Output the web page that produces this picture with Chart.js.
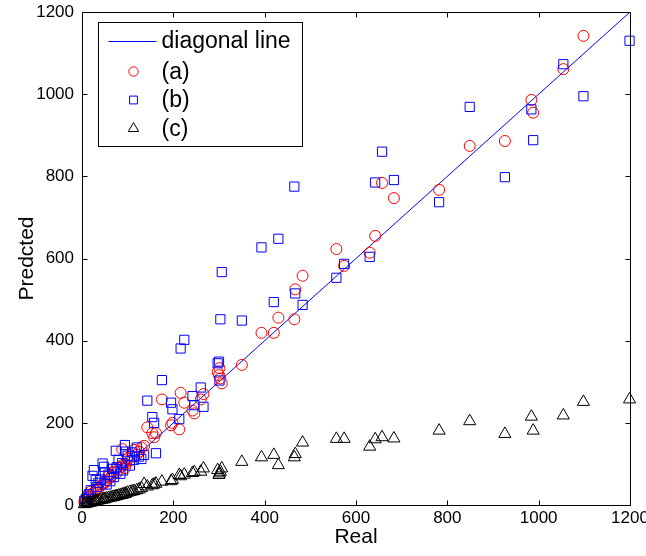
<!DOCTYPE html>
<html><head><meta charset="utf-8">
<script src="https://cdn.jsdelivr.net/npm/chart.js@4/dist/chart.umd.min.js"></script>
<style>html,body{margin:0;padding:0;background:#fff;}#wrap{width:646px;height:556px;}</style>
</head><body><div id="wrap"><canvas id="c" width="646" height="556"></canvas></div>
<script>
const realValues = [1199,1098,1054,984,988,926,849,782,683,657,642,630,574,557,483,467,465,430,420,393,350,306,303,300,297,301,266,260,246,242,224,216,213,198,195,175,162,158,154,143,136,130,125,120,114,110,105,100,96,94,90,88,84,80,76,74,70,66,62,58,54,50,48,45,40,36,32,30,26,23,19,15,12,8,5];
const predA = [null,1142,1061,986,955,886,874,767,747,784,655,614,582,623,558,525,452,456,419,419,341,296,308,316,324,333,270,257,223,230,249,273,184,200,194,257,175,165,175,189,144,140,130,122,134,118,108,112,100,90,98,136,92,86,78,88,80,72,66,70,60,56,52,50,46,40,38,34,30,28,32,20,24,12,8];
const predB = [1130,995,1073,963,888,798,969,737,791,860,785,604,587,553,487,515,775,648,494,627,449,567,452,349,345,303,239,286,243,265,402,381,209,233,249,304,126,200,214,254,122,112,118,140,110,128,96,120,130,146,84,102,76,110,92,132,68,88,58,74,50,80,93,101,62,54,44,61,85,71,36,26,18,14,10];
const predC = [257,251,218,215,181,173,204,181,162,165,160,142,161,161,152,124,116,97,122,116,105,89,81,73,85,77,89,81,80,78,74,70,73,61,58,57,52,50,48,45,51,41,38,36,34,33,32,30,28,27,26,25,24,23,22,21,20,19,18,17,16,15,14,13,12,11,10,9,8,7,6,5,4,3,2];
const diagonalX = [0, 1200];
const diagonalY = [0, 1200];
const tickValues = [0, 200, 400, 600, 800, 1000, 1200];
const seriesLabels = ['diagonal line', '(a)', '(b)', '(c)'];
const axisTitles = ['Real', 'Predcted'];

const FONT = "'Liberation Sans', Arial, sans-serif";
const toPts = (xs, ys) => xs.map((x, i) => ({x: x, y: ys[i]}));

const frameAndLegend = {
  id: 'frameAndLegend',
  afterDatasetsDraw(chart) {
    const ctx = chart.ctx;
    const a = chart.chartArea;
    const xs = chart.scales.x, ys = chart.scales.y;
    ctx.save();
    ctx.strokeStyle = '#000';
    ctx.lineWidth = 1;
    ctx.beginPath();
    const L = Math.round(a.left) + 0.5, R = Math.round(a.right) + 0.5;
    const T = Math.round(a.top) + 0.5, B = Math.round(a.bottom) + 0.5;
    ctx.rect(L, T, R - L, B - T);
    const tl = 5;
    tickValues.forEach(v => {
      const px = Math.round(xs.getPixelForValue(v)) + 0.5;
      ctx.moveTo(px, B); ctx.lineTo(px, B - tl);
      ctx.moveTo(px, T); ctx.lineTo(px, T + tl);
      const py = Math.round(ys.getPixelForValue(v)) + 0.5;
      ctx.moveTo(L, py); ctx.lineTo(L + tl, py);
      ctx.moveTo(R, py); ctx.lineTo(R - tl, py);
    });
    ctx.stroke();

    // legend
    const bx = L + 16, by = T + 10, bw = 204, bh = 124;
    ctx.fillStyle = '#fff';
    ctx.fillRect(bx, by, bw, bh);
    ctx.strokeRect(bx, by, bw, bh);
    const rowY = [by + 18, by + 49, by + 77.5, by + 106];
    ctx.font = '23px ' + FONT;
    ctx.textBaseline = 'middle';
    const dsByLabel = {};
    chart.data.datasets.forEach(d => dsByLabel[d.label] = d);
    seriesLabels.forEach((lab, i) => {
      const d = dsByLabel[lab];
      const y = rowY[i];
      ctx.strokeStyle = d.borderColor;
      ctx.lineWidth = 1;
      if (i === 0) {
        ctx.beginPath();
        ctx.moveTo(bx + 10, Math.round(y) + 0.5);
        ctx.lineTo(bx + 58, Math.round(y) + 0.5);
        ctx.stroke();
      } else {
        ctx.fillStyle = 'rgba(0,0,0,0)';
        Chart.helpers.drawPoint(ctx, {pointStyle: d.pointStyle, radius: d.pointRadius * 0.85, borderWidth: 1, rotation: 0}, bx + 35, y);
      }
      ctx.fillStyle = '#000';
      ctx.fillText(lab, bx + 63, y + 1);
    });
    ctx.restore();
  }
};

const scaleCommon = (title, isY) => ({
  type: 'linear',
  min: 0, max: 1200,
  afterBuildTicks: s => { s.ticks = tickValues.map(v => ({value: v})); },
  ticks: { color: '#000', font: {family: FONT, size: 17}, padding: isY ? 8 : 3, maxRotation: 0, autoSkip: false, callback: v => String(v) },
  grid: { display: false, drawTicks: false },
  border: { display: false },
  title: { display: true, text: title, color: '#000', font: {family: FONT, size: 21}, padding: isY ? {top: 15, bottom: 0} : {top: 0, bottom: 4} }
});

new Chart(document.getElementById('c'), {
  type: 'scatter',
  data: {
    datasets: [
      { label: seriesLabels[0], type: 'line', data: toPts(diagonalX, diagonalY), borderColor: '#0000ff', borderWidth: 1, pointRadius: 0, fill: false, order: 3, clip: false },
      { label: seriesLabels[1], data: toPts(realValues, predA), pointStyle: 'circle', pointRadius: 5.5, borderColor: '#ff0000', backgroundColor: 'rgba(0,0,0,0)', borderWidth: 1, order: 2, clip: false },
      { label: seriesLabels[2], data: toPts(realValues, predB), pointStyle: 'rect', pointRadius: 6.5, borderColor: '#0000ff', backgroundColor: 'rgba(0,0,0,0)', borderWidth: 1, order: 1, clip: false },
      { label: seriesLabels[3], data: toPts(realValues, predC), pointStyle: 'triangle', pointRadius: 7, borderColor: '#000000', backgroundColor: 'rgba(0,0,0,0)', borderWidth: 1, order: 0, clip: false }
    ]
  },
  options: {
    responsive: false,
    animation: false,
    devicePixelRatio: 1,
    layout: { padding: {left: 0, right: 16, top: 12, bottom: 2} },
    plugins: { legend: {display: false}, tooltip: {enabled: false} },
    scales: {
      x: Object.assign(scaleCommon(axisTitles[0], false), { afterFit: s => { s.height = 49; s.paddingLeft = 0; s.paddingRight = 0; } }),
      y: Object.assign(scaleCommon(axisTitles[1], true), { afterFit: s => { s.width = 82; s.paddingTop = 0; s.paddingBottom = 0; } })
    }
  },
  plugins: [frameAndLegend]
});
</script>
</body></html>
